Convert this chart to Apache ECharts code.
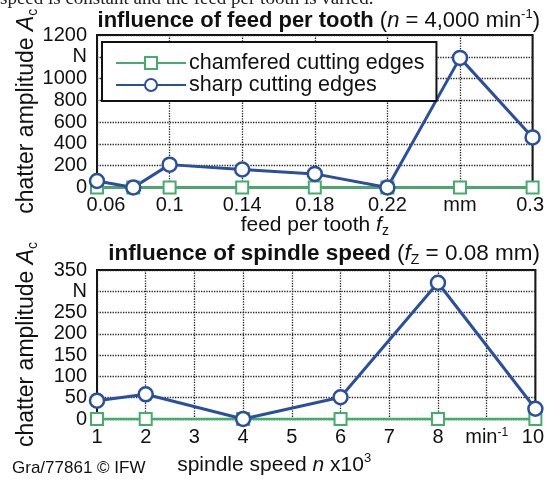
<!DOCTYPE html>
<html>
<head>
<meta charset="utf-8">
<script src="https://cdn.jsdelivr.net/npm/echarts@6/dist/echarts.min.js"></script>
<style>
  html, body { margin: 0; padding: 0; background: #fff; }
  #chart { width: 547px; height: 479px; }
</style>
</head>
<body>
<div id="chart"></div>
<script type="text/javascript">

// top chart: influence of feed per tooth
var feedX = [0.06, 0.08, 0.1, 0.14, 0.18, 0.22, 0.26, 0.3];
var feedChamfered = [0, 0, 0, 0, 0, 0, 0, 0];
var feedSharp = [60, 0, 210, 165, 125, 0, 1190, 460];
var feedTicks = [0.06, 0.1, 0.14, 0.18, 0.22, 0.26, 0.3];
var feedTickLabels = ['0.06', '0.1', '0.14', '0.18', '0.22', 'mm', '0.3'];
var feedYLabels = ['0', '200', '400', '600', '800', '1000', 'N', '1200'];

// bottom chart: influence of spindle speed
var speedX = [1, 2, 4, 6, 8, 10];
var speedChamfered = [0, 0, 0, 0, 0, 0];
var speedSharp = [43, 58, 0, 51, 320, 24];
var speedXLabels = ['1', '2', '3', '4', '5', '6', '7', '8', 'min{sup|-1}', '10'];
var speedYLabels = ['0', '50', '100', '150', '200', '250', 'N', '350'];

var FONT = '"Liberation Sans", Arial, sans-serif';
var GREEN = '#44ad6c';
var BLUE = '#2a4f9e';

function pairs(xs, ys) {
    var out = [];
    for (var i = 0; i < xs.length; i++) out.push([xs[i], ys[i]]);
    return out;
}

function richFor(size) {
    return {
        i: { fontFamily: FONT, fontStyle: 'italic', fontSize: size, lineHeight: 26, color: '#111' },
        b: { fontFamily: FONT, fontWeight: 'bold', fontSize: size, lineHeight: 26, color: '#111' },
        sub: { fontFamily: FONT, fontSize: 14, lineHeight: 14, verticalAlign: 'bottom', color: '#111' },
        sup: { fontFamily: FONT, fontSize: 13, lineHeight: 13, verticalAlign: 'top', color: '#111' }
    };
}

var labelRich = {
    sup: { fontFamily: FONT, fontSize: 12, lineHeight: 12, verticalAlign: 'top', color: '#111' },
    first: { fontFamily: FONT, fontSize: 20, color: '#111', padding: [0, 0, 0, 18] },
    last: { fontFamily: FONT, fontSize: 20, color: '#111', padding: [0, 5, 0, 0] }
};

var splitStyle = { show: true, lineStyle: { color: '#222', type: 'dotted', width: 1.3 } };

var chart = echarts.init(document.getElementById('chart'));

var option = {
    backgroundColor: '#fff',
    animation: false,
    textStyle: { fontFamily: FONT },
    title: [{
        right: 7,
        top: 8,
        padding: 0,
        text: '{b|influence of feed per tooth} ({i|n} = 4,000 min{sup|-1})',
        textStyle: { fontFamily: FONT, fontSize: 22, lineHeight: 26, fontWeight: 'normal', color: '#111', rich: richFor(22) }
    }, {
        right: 7,
        top: 241,
        padding: 0,
        text: '{b|influence of spindle speed} ({i|f}{sub|Z} = 0.08 mm)',
        textStyle: { fontFamily: FONT, fontSize: 22.5, lineHeight: 26, fontWeight: 'normal', color: '#111', rich: richFor(22.5) }
    }],
    legend: {
        left: 102,
        top: 42,
        orient: 'vertical',
        data: ['chamfered cutting edges', 'sharp cutting edges'],
        backgroundColor: '#fff',
        borderColor: '#111',
        borderWidth: 2,
        borderRadius: 0,
        padding: [10, 12, 5, 13],
        itemWidth: 70,
        itemHeight: 15,
        itemGap: 0,
        textStyle: { fontFamily: FONT, fontSize: 21.5, lineHeight: 21, color: '#111', padding: [0, 0, 0, -2] }
    },
    grid: [
        { left: 97, top: 35, width: 445, height: 152.5, show: true, borderColor: '#111', borderWidth: 2, backgroundColor: 'transparent' },
        { left: 97, top: 270, width: 445, height: 151, show: true, borderColor: '#111', borderWidth: 2, backgroundColor: 'transparent' }
    ],
    xAxis: [{
        gridIndex: 0,
        type: 'value',
        min: 0.06,
        max: 0.3,
        axisLine: { show: false },
        axisTick: { show: false, customValues: feedTicks },
        splitLine: splitStyle,
        axisLabel: {
            customValues: feedTicks,
            margin: 8,
            fontSize: 20,
            color: '#111',
            rich: labelRich,
            formatter: function (v) {
                var idx = 0;
                for (var i = 0; i < feedTicks.length; i++) {
                    if (Math.abs(feedTicks[i] - v) < 1e-6) idx = i;
                }
                if (idx === 0) return '{first|' + feedTickLabels[idx] + '}';
                if (idx === feedTicks.length - 1) return '{last|' + feedTickLabels[idx] + '}';
                return feedTickLabels[idx];
            }
        },
        name: 'feed per tooth {i|f}{sub|z}',
        nameLocation: 'middle',
        nameGap: 25,
        nameMoveOverlap: false,
        nameTextStyle: { fontFamily: FONT, fontSize: 21, lineHeight: 26, color: '#111', rich: richFor(21), verticalAlign: 'top' }
    }, {
        gridIndex: 1,
        type: 'value',
        min: 1,
        max: 10,
        interval: 1,
        axisLine: { show: false },
        axisTick: { show: false },
        splitLine: splitStyle,
        axisLabel: {
            margin: 8,
            fontSize: 20,
            color: '#111',
            rich: labelRich,
            formatter: function (v) {
                var lab = speedXLabels[Math.round(v) - 1];
                if (Math.round(v) === 10) return '{last|' + lab + '}';
                return lab;
            }
        },
        name: 'spindle speed {i|n} x10{sup|3}',
        nameLocation: 'middle',
        nameGap: 33,
        nameMoveOverlap: false,
        nameTextStyle: { fontFamily: FONT, fontSize: 21, lineHeight: 26, color: '#111', rich: richFor(21), verticalAlign: 'top', padding: [0, 84, 0, 0] }
    }],
    yAxis: [{
        gridIndex: 0,
        type: 'value',
        min: 0,
        max: 1400,
        interval: 200,
        axisLine: { show: false },
        axisTick: { show: false },
        splitLine: splitStyle,
        axisLabel: {
            margin: 10,
            fontSize: 20,
            color: '#111',
            formatter: function (v) { return feedYLabels[Math.round(v / 200)]; }
        },
        name: 'chatter amplitude {i|A}{sub|c}',
        nameLocation: 'middle',
        nameRotate: 90,
        nameGap: 57,
        nameMoveOverlap: false,
        nameTextStyle: { fontFamily: FONT, fontSize: 23, lineHeight: 26, color: '#111', rich: richFor(23) }
    }, {
        gridIndex: 1,
        type: 'value',
        min: 0,
        max: 350,
        interval: 50,
        axisLine: { show: false },
        axisTick: { show: false },
        splitLine: splitStyle,
        axisLabel: {
            margin: 10,
            fontSize: 20,
            color: '#111',
            formatter: function (v) { return speedYLabels[Math.round(v / 50)]; }
        },
        name: 'chatter amplitude {i|A}{sub|c}',
        nameLocation: 'middle',
        nameRotate: 90,
        nameGap: 57,
        nameMoveOverlap: false,
        nameTextStyle: { fontFamily: FONT, fontSize: 23, lineHeight: 26, color: '#111', rich: richFor(23) }
    }],
    series: [{
        name: 'chamfered cutting edges',
        type: 'line',
        xAxisIndex: 0, yAxisIndex: 0,
        data: pairs(feedX, feedChamfered),
        symbol: 'rect', symbolSize: 12,
        clip: false,
        lineStyle: { color: GREEN, width: 2.5 },
        itemStyle: { color: '#fff', borderColor: GREEN, borderWidth: 2 }
    }, {
        name: 'sharp cutting edges',
        type: 'line',
        xAxisIndex: 0, yAxisIndex: 0,
        data: pairs(feedX, feedSharp),
        symbol: 'circle', symbolSize: 14,
        clip: false,
        lineStyle: { color: BLUE, width: 3 },
        itemStyle: { color: '#fff', borderColor: BLUE, borderWidth: 2.5 }
    }, {
        name: 'chamfered cutting edges',
        type: 'line',
        xAxisIndex: 1, yAxisIndex: 1,
        data: pairs(speedX, speedChamfered),
        symbol: 'rect', symbolSize: 12,
        clip: false,
        lineStyle: { color: GREEN, width: 2.5 },
        itemStyle: { color: '#fff', borderColor: GREEN, borderWidth: 2 }
    }, {
        name: 'sharp cutting edges',
        type: 'line',
        xAxisIndex: 1, yAxisIndex: 1,
        data: pairs(speedX, speedSharp),
        symbol: 'circle', symbolSize: 14,
        clip: false,
        lineStyle: { color: BLUE, width: 3 },
        itemStyle: { color: '#fff', borderColor: BLUE, borderWidth: 2.5 }
    }],
    graphic: [{
        type: 'text',
        x: 0, y: -10,
        style: { text: 'speed is constant and the feed per tooth is varied.', font: '19px "Liberation Serif", serif', fill: '#222' }
    }, {
        type: 'text',
        x: 12, y: 460,
        style: { text: 'Gra/77861 \u00a9 IFW', font: '17px "Liberation Sans", Arial, sans-serif', fill: '#111' }
    }]
};

chart.setOption(option);
</script>
</body>
</html>
